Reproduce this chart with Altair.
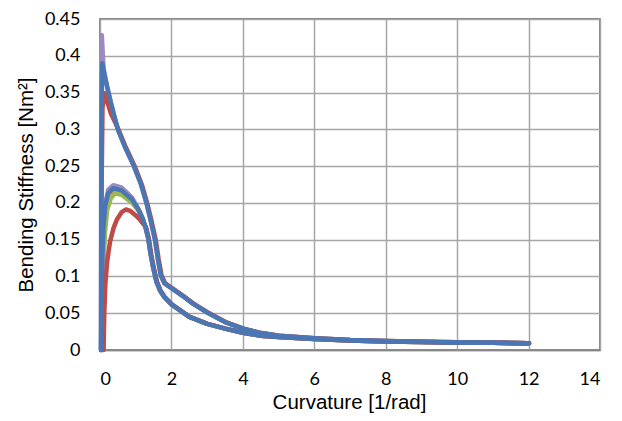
import altair as alt
import pandas as pd

# ---- shared tails ----
TAIL_A_X = [0.7, 0.95, 1.15, 1.3, 1.42, 1.54, 1.62, 1.7, 1.8, 2.0, 2.3, 2.6, 3.0, 3.5, 4.0, 4.5, 5.0, 6.0, 7.0, 8.0, 9.0, 10.0, 11.0, 12.0]
TAIL_A_Y = [0.276, 0.25, 0.225, 0.2, 0.176, 0.15, 0.124, 0.102, 0.091, 0.084, 0.074, 0.063, 0.051, 0.038, 0.029, 0.023, 0.0195, 0.016, 0.0135, 0.0122, 0.0113, 0.0106, 0.0099, 0.0093]
TAIL_B_X = [1.28, 1.35, 1.42, 1.49, 1.58, 1.68, 1.8, 2.0, 2.5, 3.0, 3.5, 4.0, 4.5, 5.0, 6.0, 7.0, 8.0, 9.0, 10.0, 11.0, 12.0]
TAIL_B_Y = [0.166, 0.152, 0.13, 0.112, 0.093, 0.081, 0.072, 0.062, 0.045, 0.0355, 0.029, 0.0235, 0.0195, 0.0175, 0.0148, 0.0128, 0.0117, 0.0109, 0.0103, 0.0097, 0.0092]

# ---- series heads ----
BLUE_A_X = [0.03, 0.035, 0.045, 0.065, 0.12, 0.2, 0.3, 0.4, 0.5]
BLUE_A_Y = [0.0, 0.15, 0.33, 0.39, 0.375, 0.358, 0.337, 0.318, 0.3]
PURPLE_A_X = [0.025, 0.03, 0.04, 0.05, 0.07, 0.1, 0.2, 0.3, 0.4, 0.5]
PURPLE_A_Y = [0.0, 0.2, 0.41, 0.428, 0.41, 0.383, 0.358, 0.337, 0.318, 0.3]
RED_A_X = [0.035, 0.04, 0.07, 0.13, 0.2, 0.3, 0.45, 0.55]
RED_A_Y = [0.0, 0.2, 0.33, 0.349, 0.338, 0.322, 0.307, 0.296]

BLUE_B_X = [0.03, 0.04, 0.06, 0.09, 0.14, 0.23, 0.37, 0.6, 0.89, 1.05, 1.2]
BLUE_B_Y = [0.0, 0.06, 0.12, 0.163, 0.195, 0.213, 0.22, 0.217, 0.205, 0.193, 0.178]
PURPLE_B_X = [0.035, 0.045, 0.07, 0.1, 0.15, 0.23, 0.37, 0.6, 0.9, 1.05, 1.2]
PURPLE_B_Y = [0.0, 0.06, 0.125, 0.17, 0.2, 0.218, 0.224, 0.221, 0.207, 0.194, 0.178]
GREEN_B_X = [0.05, 0.07, 0.1, 0.14, 0.2, 0.3, 0.42, 0.6, 0.9, 1.1, 1.2]
GREEN_B_Y = [0.0, 0.07, 0.12, 0.16, 0.19, 0.206, 0.213, 0.211, 0.2, 0.188, 0.178]
ORANGE_B_X = [0.045, 0.06, 0.09, 0.14, 0.23, 0.37, 0.6, 0.9, 1.1, 1.2]
ORANGE_B_Y = [0.0, 0.08, 0.14, 0.185, 0.208, 0.215, 0.212, 0.202, 0.19, 0.178]
RED_B_X = [0.1, 0.12, 0.15, 0.2, 0.28, 0.38, 0.47, 0.6, 0.72, 0.85, 1.0, 1.12, 1.22]
RED_B_Y = [0.0, 0.05, 0.09, 0.12, 0.147, 0.166, 0.177, 0.187, 0.191, 0.189, 0.183, 0.177, 0.171]

BLUE = "#4A77B4"
RED = "#BE4B48"
GREEN = "#98B954"
PURPLE = "#9C8BBF"
ORANGE = "#F79646"

# (name, x, y, tail, x-shift of tail, colour) in drawing order
series = [
    ("Orange B", ORANGE_B_X, ORANGE_B_Y, "B", 0.0, ORANGE),
    ("Green B", GREEN_B_X, GREEN_B_Y, "B", 0.0, GREEN),
    ("Purple A", PURPLE_A_X, PURPLE_A_Y, "A", 0.0, PURPLE),
    ("Purple B", PURPLE_B_X, PURPLE_B_Y, "B", 0.0, PURPLE),
    ("Red A", RED_A_X, RED_A_Y, "A", 0.02, RED),
    ("Red B", RED_B_X, RED_B_Y, "B", 0.015, RED),
    ("Blue B", BLUE_B_X, BLUE_B_Y, "B", 0.0, BLUE),
    ("Blue A", BLUE_A_X, BLUE_A_Y, "A", 0.0, BLUE),
]

rows = []
for name, xs, ys, tail, dx, col in series:
    tx, ty = (TAIL_A_X, TAIL_A_Y) if tail == "A" else (TAIL_B_X, TAIL_B_Y)
    allx = list(xs) + [v + dx for v in tx]
    ally = list(ys) + list(ty)
    for i, (a, b) in enumerate(zip(allx, ally)):
        rows.append({"series": name, "x": a, "y": b, "i": i})
df = pd.DataFrame(rows)

names = [s[0] for s in series]
colors = [s[5] for s in series]

xscale = alt.Scale(domain=[0, 14], nice=False, zero=False)
yscale = alt.Scale(domain=[0, 0.45], nice=False)
cscale = alt.Scale(domain=names, range=colors)

layers = []
for name in names:
    enc = dict(
        x=alt.X("x:Q", scale=xscale,
                axis=alt.Axis(values=list(range(0, 15, 2)), title="Curvature [1/rad]",
                              titleX=249, titleY=42, titleBaseline="top")),
        y=alt.Y("y:Q", scale=yscale,
                axis=alt.Axis(values=[0, 0.05, 0.1, 0.15, 0.2, 0.25, 0.3, 0.35, 0.4, 0.45],
                              format="~g", title="Bending Stiffness [Nm²]",
                              titleX=-64, titleY=165.5)),
        color=alt.Color("series:N", scale=cscale, legend=None),
        order=alt.Order("i:Q"),
    )
    layers.append(
        alt.Chart(df).transform_filter(alt.datum.series == name)
        .mark_line(strokeWidth=4.5, strokeCap="round", strokeJoin="round", clip=False)
        .encode(**enc)
    )

chart = alt.layer(*layers).properties(
    width=500, height=331,
    autosize=alt.AutoSizeParams(type="none"),
    padding={"left": 92, "top": 11, "right": 10, "bottom": 63},
).configure_view(
    stroke="#5A5A5A", strokeWidth=1.5
).configure_axis(
    grid=True, gridColor="#A6A6A6", gridWidth=1.5,
    domainColor="#868686", domainWidth=1.5,
    ticks=False, labelPadding=20,
    labelFont="Lato", labelFontSize=18, labelColor="#000000",
    titleFont="Liberation Sans", titleFontSize=20.5, titleFontWeight="normal", titleColor="#000000",
).configure_axisY(domain=False)

chart.save("out.html", embed_options={"renderer": "svg", "actions": False})
